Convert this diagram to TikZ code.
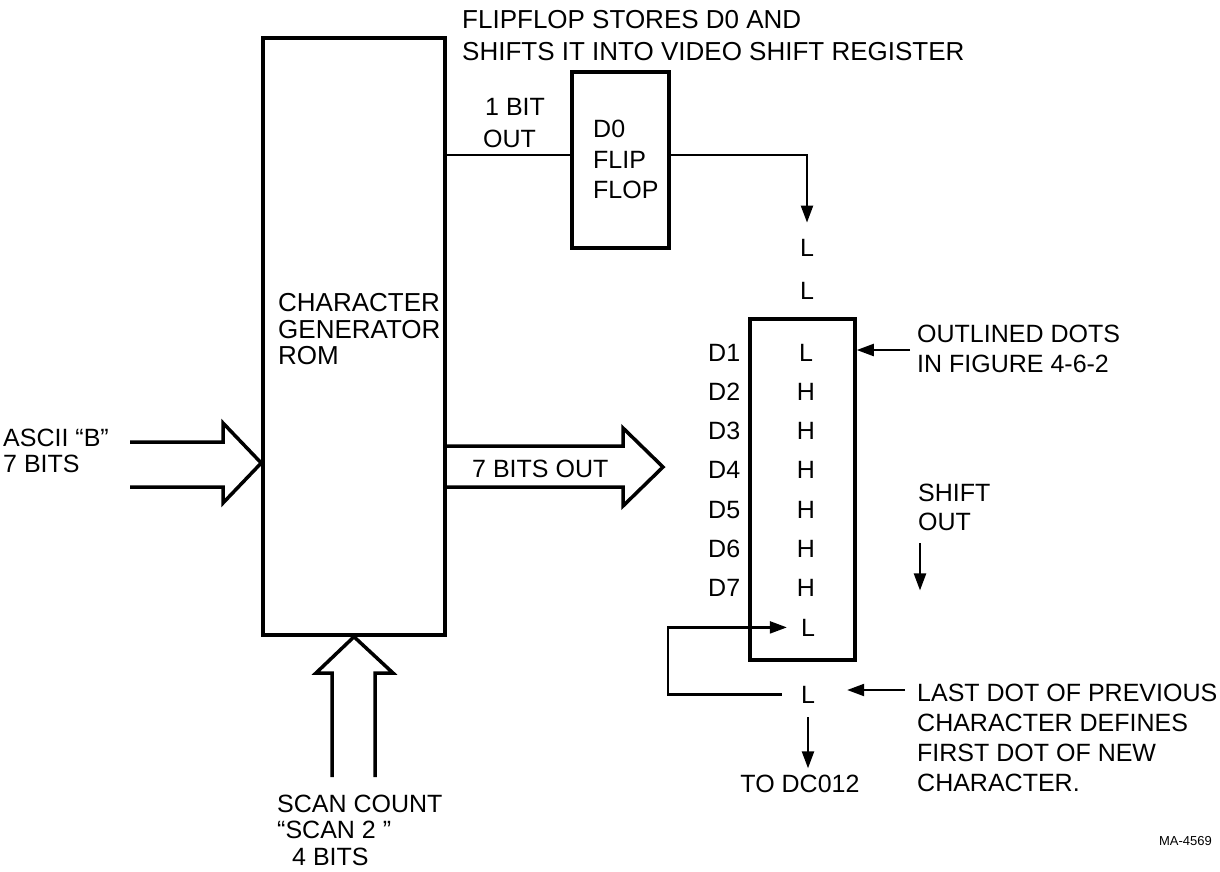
\documentclass[tikz,border=0pt]{standalone}
\usepackage{fontspec}
\setmainfont{Liberation Sans}
\usetikzlibrary{arrows.meta}
\begin{document}
\begin{tikzpicture}[x=1pt,y=-1pt,
  box/.style={draw, line width=3.5pt, inner sep=0pt},
  lbl/.style={font=\fontsize{25}{30}\selectfont, inner sep=0pt, anchor=base west},
  big/.style={lbl, font=\fontsize{26}{30}\selectfont},
  ctr/.style={lbl, anchor=base},
  wire/.style={line width=2.2pt},
  arr/.style={wire, -{Triangle[length=17pt,width=12pt]}},
  hollow/.style={line width=3.5pt, line join=miter}]
\useasboundingbox (0,0) rectangle (1220,871);

% boxes
\node[box, minimum width=182pt, minimum height=597pt] (rom) at (354,336.5) {};
\node[box, minimum width=97pt, minimum height=176pt] (ff) at (620.5,160) {};
\node[box, minimum width=105pt, minimum height=341pt] (sr) at (802.5,489.5) {};

% header
\node[big] (h1) at (462,28) {FLIPFLOP STORES D0 AND};
\node[big] (h2) at (462,60) {SHIFTS IT INTO VIDEO SHIFT REGISTER};

% ROM text
\node[big] (r1) at (278,311) {CHARACTER};
\node[big] (r2) at (278,338) {GENERATOR};
\node[big] (r3) at (278,364) {ROM};

% flip flop text
\node[lbl] (b1) at (485,115) {1 BIT};
\node[lbl] (b2) at (483,147) {OUT};
\node[lbl] (f1) at (593,137) {D0};
\node[lbl] (f2) at (593,168) {FLIP};
\node[lbl] (f3) at (593,198) {FLOP};

% L above register
\node[ctr] (la) at (807,256) {L};
\node[ctr] (lb2) at (807,299) {L};

% register contents
\node[ctr] (l1) at (806,361) {L};
\node[ctr] (l2) at (806,400) {H};
\node[ctr] (l3) at (806,439) {H};
\node[ctr] (l4) at (806,478) {H};
\node[ctr] (l5) at (806,518) {H};
\node[ctr] (l6) at (806,557) {H};
\node[ctr] (l7) at (806,596) {H};
\node[ctr] (l8) at (808,636) {L};
\node[lbl] (d1) at (708,361) {D1};
\node[lbl] (d2) at (708,400) {D2};
\node[lbl] (d3) at (708,439) {D3};
\node[lbl] (d4) at (708,478) {D4};
\node[lbl] (d5) at (708,518) {D5};
\node[lbl] (d6) at (708,557) {D6};
\node[lbl] (d7) at (708,596) {D7};

\node[ctr] (lb) at (808,703) {L};
\node[ctr] (todc) at (800,792) {TO DC012};

% right annotations
\node[lbl] (o1) at (917,342) {OUTLINED DOTS};
\node[lbl] (o2) at (917,372) {IN FIGURE 4-6-2};
\node[lbl] (s1) at (918,501) {SHIFT};
\node[lbl] (s2) at (918,530) {OUT};
\node[lbl] (t1) at (917,701) {LAST DOT OF PREVIOUS};
\node[lbl] (t2) at (917,731) {CHARACTER DEFINES};
\node[lbl] (t3) at (917,761) {FIRST DOT OF NEW};
\node[lbl] (t4) at (917,791) {CHARACTER.};

% left / bottom labels
\node[lbl] (a1) at (3,446) {ASCII “B”};
\node[lbl] (a2) at (3,472) {7 BITS};
\node[lbl] (bo) at (472,477) {7 BITS OUT};
\node[lbl] (c1) at (277,812) {SCAN COUNT};
\node[lbl] (c2) at (277,838) {“SCAN 2 ”};
\node[lbl] (c3) at (292,865) {4 BITS};
\node[font=\fontsize{13}{15}\selectfont, inner sep=0pt, anchor=base east] (ma) at (1212,845) {MA-4569};

% hollow bus arrows
\draw[hollow] (130,442) -- (223,442) -- (223,423) -- (rom.west |- 0,463) -- (223,503) -- (223,487) -- (130,487);
\draw[hollow] (rom.east |- 0,446) -- (623,446) -- (623,428) -- (663,467) -- (623,506) -- (623,487) -- (rom.east |- 0,487);
\draw[hollow] (332,777) -- (332,673) -- (316,673) -- (rom.south) -- (393,673) -- (375,673) -- (375,777);

% wires
\draw[wire] ([yshift=5pt]ff.west) -- ([yshift=5pt]ff.west -| rom.east);
\draw[arr] ([yshift=5pt]ff.east) -| ([yshift=16pt]la.north);
\coordinate (oa) at (910,350);
\draw[arr] (oa) -- (oa -| sr.east);
\draw[arr] ([xshift=2pt,yshift=-13pt]s2.south west) -- ++(0,47);
\coordinate (lda) at (905,690);
\draw[arr, shorten >=32pt] (lda) -- (lda -| lb.east);
\draw[arr] ([xshift=-19pt]lb.west) -- ++(-114,0) |- ([xshift=-14pt]l8.west);
\draw[arr, shorten >=6pt] ([yshift=-14pt]lb.south) -- (lb.south |- todc.north);
\end{tikzpicture}
\end{document}
